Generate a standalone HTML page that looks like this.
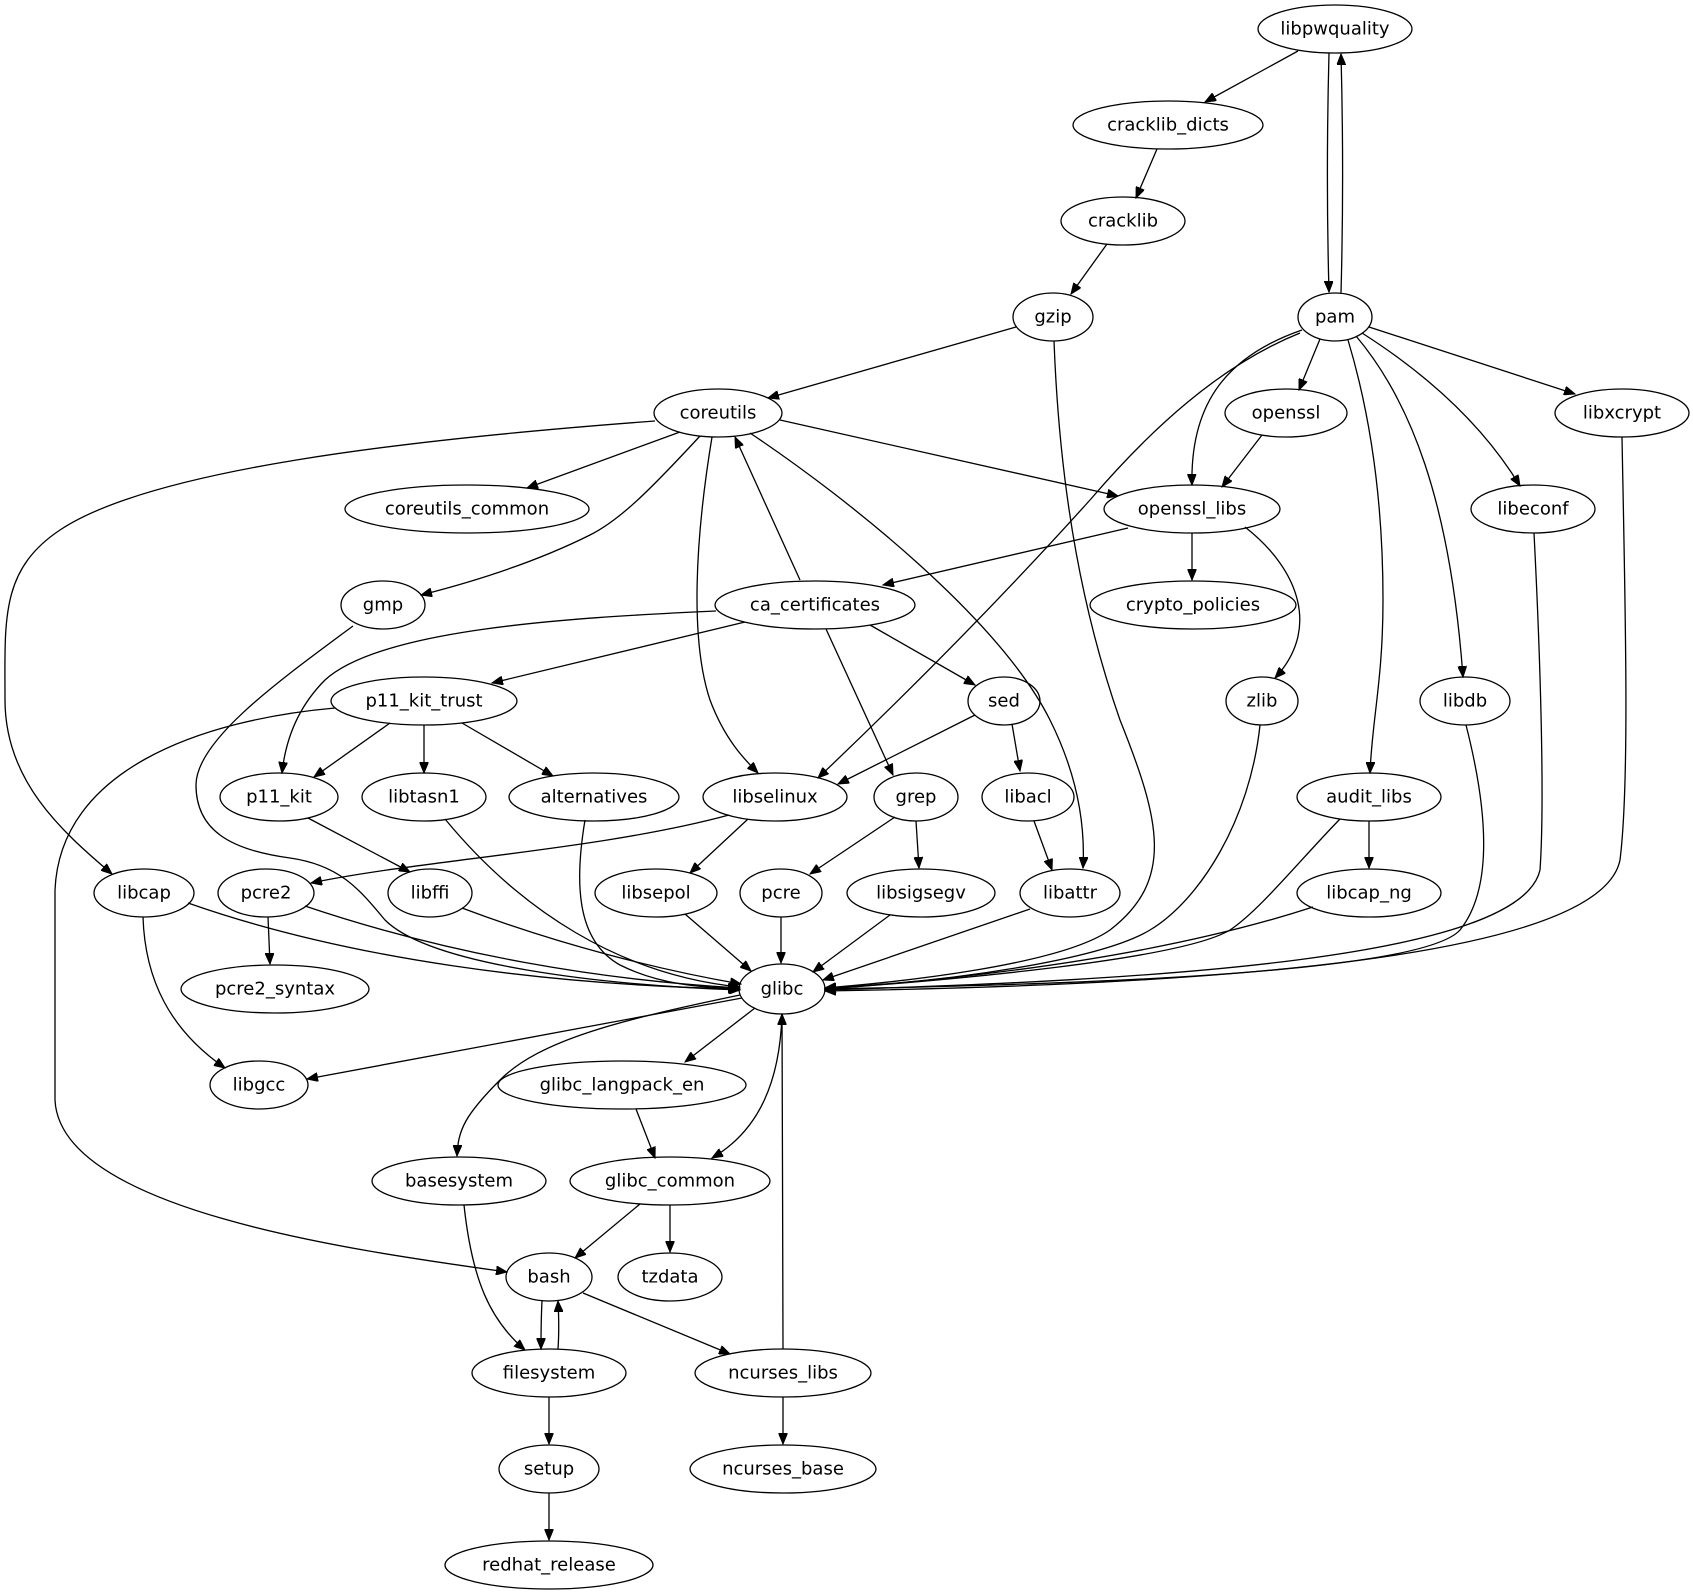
<!DOCTYPE html>
<html><head><meta charset="utf-8">
<style>
html,body{margin:0;padding:0;background:#fff;}
svg{display:block;}
text{font-family:"DejaVu Sans","Liberation Sans",sans-serif;font-size:18px;fill:#000;text-anchor:middle;dominant-baseline:central;}
ellipse{fill:none;stroke:#000;stroke-width:1.3;}
path{fill:none;stroke:#000;stroke-width:1.3;}
</style></head>
<body>
<svg width="1693" height="1595" viewBox="0 0 1693 1595" xmlns="http://www.w3.org/2000/svg">
<defs>
<marker id="a" markerUnits="userSpaceOnUse" markerWidth="12" markerHeight="9" refX="11" refY="4.5" orient="auto">
<path d="M0,0 L11,4.5 L0,9 z" style="fill:#000;stroke:#000;stroke-width:1"/>
</marker>
</defs>
<g marker-end="url(#a)">
<path d="M1298,51 L1205,102"/>
<path d="M1329,53 C1327,130 1327,220 1329,292"/>
<path d="M1341,293 C1343,220 1343,130 1341,54"/>
<path d="M1157,149 L1136,198"/>
<path d="M1107,244 L1071,294"/>
<path d="M1016,327 L768,398"/>
<path d="M1054,341 C1060,500 1085,620 1120,720 C1160,820 1175,880 1110,930 C1060,965 900,982 825,988"/>
<path d="M1320,339 L1299,390"/>
<path d="M1302,330 C1230,355 1190,400 1192,485"/>
<path d="M1300,333 C1220,365 1150,430 1090,500 C1000,600 900,700 818,778"/>
<path d="M1348,340 C1375,430 1383,520 1383,600 C1383,680 1372,720 1370,773"/>
<path d="M1356,336 C1410,400 1450,500 1463,677"/>
<path d="M1362,333 C1420,370 1480,420 1520,486"/>
<path d="M1369,327 L1575,394"/>
<path d="M1262,435 L1222,487"/>
<path d="M1622,437 C1625,600 1630,780 1620,860 C1600,960 1200,985 825,991"/>
<path d="M1534,533 C1540,650 1545,800 1540,870 C1520,960 1150,980 825,990"/>
<path d="M1466,725 C1480,780 1500,880 1460,930 C1420,975 1050,985 825,989"/>
<path d="M680,432 L527,488"/>
<path d="M780,420 L1118,496"/>
<path d="M700,436 C650,490 620,520 590,535 C540,560 480,580 421,595"/>
<path d="M655,421 C400,440 150,470 60,530 C0,570 5,620 5,700 C5,780 60,830 112,874"/>
<path d="M712,437 C695,540 690,640 710,700 C725,740 745,760 758,773"/>
<path d="M750,433 C850,500 1000,620 1050,720 C1080,780 1085,830 1083,868"/>
<path d="M800,580 L735,437"/>
<path d="M1128,528 L883,585"/>
<path d="M1192,533 L1192,580"/>
<path d="M1245,527 C1300,570 1320,630 1275,678"/>
<path d="M716,611 C560,618 380,630 325,680 C295,710 285,745 282,773"/>
<path d="M745,622 L492,683"/>
<path d="M870,625 L975,685"/>
<path d="M826,629 L893,775"/>
<path d="M975,715 L838,784"/>
<path d="M1012,724 L1020,771"/>
<path d="M390,723 L314,777"/>
<path d="M424,725 L424,773"/>
<path d="M462,723 L553,776"/>
<path d="M335,708 C200,720 60,770 55,890 L55,1100 C60,1210 350,1250 507,1272"/>
<path d="M308,818 L410,872"/>
<path d="M445,819 C520,910 620,975 740,987"/>
<path d="M585,820 C575,880 575,940 620,965 C660,985 700,987 740,989"/>
<path d="M353,626 C280,680 196,740 196,785 C196,830 230,850 290,858 C340,865 360,890 385,920 C430,965 600,985 740,990"/>
<path d="M188,903 C350,960 550,985 739,989"/>
<path d="M143,917 C145,980 170,1030 225,1068"/>
<path d="M305,906 C450,955 600,980 739,988"/>
<path d="M268,917 L270,964"/>
<path d="M729,815 C600,850 420,860 311,883"/>
<path d="M748,819 L690,873"/>
<path d="M462,908 C560,945 660,970 741,984"/>
<path d="M685,914 L751,971"/>
<path d="M781,917 L781,963"/>
<path d="M895,817 L810,874"/>
<path d="M916,821 L919,868"/>
<path d="M1034,821 L1052,870"/>
<path d="M890,915 L813,972"/>
<path d="M1030,909 L823,980"/>
<path d="M1260,725 C1250,820 1200,900 1150,930 C1100,960 950,982 825,988"/>
<path d="M1340,819 C1300,860 1260,910 1230,930 C1180,960 950,980 825,989"/>
<path d="M1369,821 L1369,868"/>
<path d="M1313,907 C1150,960 950,980 825,989"/>
<path d="M742,998 L307,1079"/>
<path d="M755,1008 L685,1062"/>
<path d="M740,995 C620,1020 540,1040 500,1080 C465,1115 458,1130 457,1156"/>
<path d="M782,1014 C780,1080 760,1130 712,1158"/>
<path d="M636,1109 L655,1158"/>
<path d="M464,1205 C472,1280 490,1320 525,1350"/>
<path d="M640,1204 L575,1258"/>
<path d="M670,1205 L670,1252"/>
<path d="M542,1301 C541,1320 541,1335 541,1349"/>
<path d="M558,1349 C559,1335 559,1320 558,1301"/>
<path d="M583,1293 L730,1354"/>
<path d="M783,1349 C783,1250 782,1100 782,1014"/>
<path d="M783,1397 L783,1444"/>
<path d="M549,1397 L549,1444"/>
<path d="M549,1493 L549,1540"/>
</g>
<g>
<ellipse cx="1335" cy="29" rx="77" ry="24"/><text x="1335" y="29">libpwquality</text>
<ellipse cx="1168" cy="125" rx="95" ry="24"/><text x="1168" y="125">cracklib_dicts</text>
<ellipse cx="1123" cy="221" rx="62" ry="24"/><text x="1123" y="221">cracklib</text>
<ellipse cx="1053" cy="317" rx="40" ry="24"/><text x="1053" y="317">gzip</text>
<ellipse cx="1335" cy="317" rx="37" ry="24"/><text x="1335" y="317">pam</text>
<ellipse cx="718" cy="413" rx="64" ry="24"/><text x="718" y="413">coreutils</text>
<ellipse cx="1286" cy="413" rx="61" ry="24"/><text x="1286" y="413">openssl</text>
<ellipse cx="1622" cy="413" rx="67" ry="24"/><text x="1622" y="413">libxcrypt</text>
<ellipse cx="467" cy="509" rx="122" ry="24"/><text x="467" y="509">coreutils_common</text>
<ellipse cx="1192" cy="509" rx="88" ry="24"/><text x="1192" y="509">openssl_libs</text>
<ellipse cx="1533" cy="509" rx="62" ry="24"/><text x="1533" y="509">libeconf</text>
<ellipse cx="383" cy="605" rx="42" ry="24"/><text x="383" y="605">gmp</text>
<ellipse cx="815" cy="605" rx="100" ry="24"/><text x="815" y="605">ca_certificates</text>
<ellipse cx="1193" cy="605" rx="103" ry="24"/><text x="1193" y="605">crypto_policies</text>
<ellipse cx="424" cy="701" rx="93" ry="24"/><text x="424" y="701">p11_kit_trust</text>
<ellipse cx="1004" cy="701" rx="36" ry="24"/><text x="1004" y="701">sed</text>
<ellipse cx="1262" cy="701" rx="36" ry="24"/><text x="1262" y="701">zlib</text>
<ellipse cx="1465" cy="701" rx="45" ry="24"/><text x="1465" y="701">libdb</text>
<ellipse cx="279" cy="797" rx="59" ry="24"/><text x="279" y="797">p11_kit</text>
<ellipse cx="424" cy="797" rx="62" ry="24"/><text x="424" y="797">libtasn1</text>
<ellipse cx="594" cy="797" rx="85" ry="24"/><text x="594" y="797">alternatives</text>
<ellipse cx="775" cy="797" rx="72" ry="24"/><text x="775" y="797">libselinux</text>
<ellipse cx="916" cy="797" rx="42" ry="24"/><text x="916" y="797">grep</text>
<ellipse cx="1028" cy="797" rx="46" ry="24"/><text x="1028" y="797">libacl</text>
<ellipse cx="1369" cy="797" rx="72" ry="24"/><text x="1369" y="797">audit_libs</text>
<ellipse cx="144" cy="893" rx="50" ry="24"/><text x="144" y="893">libcap</text>
<ellipse cx="266" cy="893" rx="48" ry="24"/><text x="266" y="893">pcre2</text>
<ellipse cx="430" cy="893" rx="42" ry="24"/><text x="430" y="893">libffi</text>
<ellipse cx="656" cy="893" rx="61" ry="24"/><text x="656" y="893">libsepol</text>
<ellipse cx="781" cy="893" rx="41" ry="24"/><text x="781" y="893">pcre</text>
<ellipse cx="921" cy="893" rx="74" ry="24"/><text x="921" y="893">libsigsegv</text>
<ellipse cx="1070" cy="893" rx="50" ry="24"/><text x="1070" y="893">libattr</text>
<ellipse cx="1369" cy="893" rx="72" ry="24"/><text x="1369" y="893">libcap_ng</text>
<ellipse cx="275" cy="989" rx="94" ry="24"/><text x="275" y="989">pcre2_syntax</text>
<ellipse cx="782" cy="989" rx="43" ry="25"/><text x="782" y="989">glibc</text>
<ellipse cx="259" cy="1085" rx="49" ry="24"/><text x="259" y="1085">libgcc</text>
<ellipse cx="622" cy="1085" rx="124" ry="24"/><text x="622" y="1085">glibc_langpack_en</text>
<ellipse cx="459" cy="1181" rx="87" ry="24"/><text x="459" y="1181">basesystem</text>
<ellipse cx="670" cy="1181" rx="100" ry="24"/><text x="670" y="1181">glibc_common</text>
<ellipse cx="549" cy="1277" rx="43" ry="24"/><text x="549" y="1277">bash</text>
<ellipse cx="670" cy="1277" rx="52" ry="24"/><text x="670" y="1277">tzdata</text>
<ellipse cx="549" cy="1373" rx="77" ry="24"/><text x="549" y="1373">filesystem</text>
<ellipse cx="783" cy="1373" rx="88" ry="24"/><text x="783" y="1373">ncurses_libs</text>
<ellipse cx="549" cy="1469" rx="50" ry="24"/><text x="549" y="1469">setup</text>
<ellipse cx="783" cy="1469" rx="93" ry="24"/><text x="783" y="1469">ncurses_base</text>
<ellipse cx="549" cy="1565" rx="104" ry="24"/><text x="549" y="1565">redhat_release</text>
</g>
</svg>
</body></html>
